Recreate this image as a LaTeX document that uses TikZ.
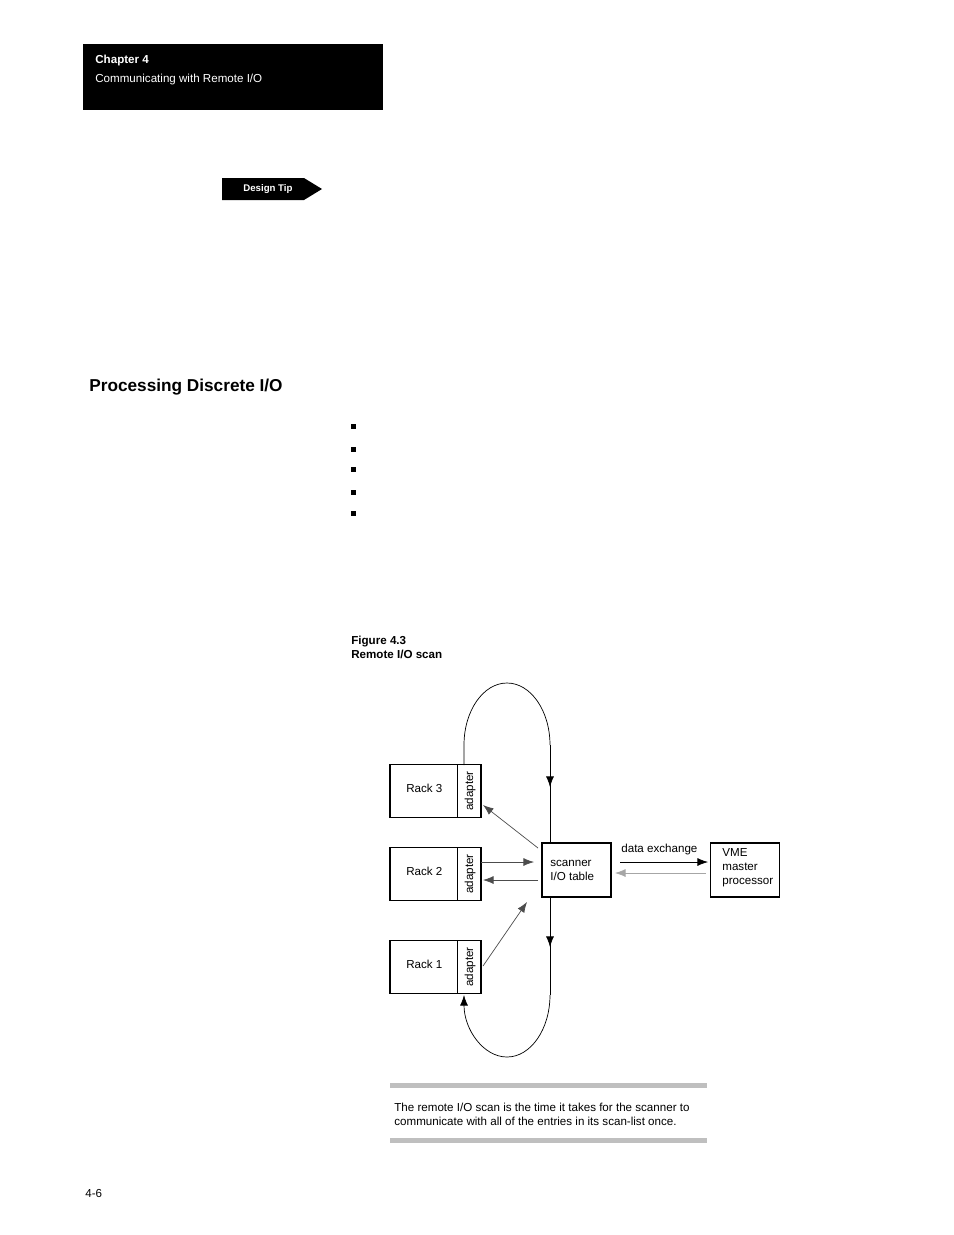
\documentclass[tikz,border=0pt]{standalone}
\usepackage{fontspec}
\setmainfont{Liberation Sans}
\usetikzlibrary{arrows,arrows.meta,calc,shapes}
\tikzset{>={Latex[length=6pt,width=4.5pt]}}
\tikzstyle{rack}=[rectangle,draw,thick,minimum height=1.06cm,minimum width=1.82cm,inner sep=0pt]
\tikzstyle{unit}=[rectangle,draw,thick,minimum height=1.08cm,minimum width=1.38cm,inner sep=0pt]
\tikzstyle{txt}=[anchor=west,inner sep=0pt,font=\fontsize{6.6}{8}\selectfont,align=left]
\tikzstyle{link}=[->,draw=black!70,thin]
\begin{document}
\begin{tikzpicture}[x=0.02cm,y=-0.02cm]
	\useasboundingbox (0,0) rectangle (954,1235);
	% page furniture
	\fill (83,44) rectangle (383,110);
	\node[txt,text=white] (chap) at (95,60) {\textbf{Chapter 4}};
	\node[txt,text=white] (chapt) at (95,79) {Communicating with Remote I/O};
	\fill (222,178) -- (304,178) -- (322,189) -- (304,200) -- (222,200) -- cycle;
	\node[txt,text=white,font=\fontsize{5.5}{6}\selectfont\bfseries] (tip) at (243,189) {Design Tip};
	\node[txt,font=\fontsize{9.8}{12}\selectfont\bfseries] (sec) at (89,387) {Processing Discrete I/O};
	\foreach \y in {426,449,469,492,513} {
		\fill (351,\y-2) rectangle (356,\y+3);
	};
	\node[txt,font=\fontsize{6.6}{8}\selectfont\bfseries] (fig) at (351,647) {Figure 4.3\\Remote I/O scan};

	% racks
	\foreach \i/\y in {3/791,2/874,1/967} {
		\node[rack] (rack\i) at (435.5,\y) {};
		\draw (457,\y-26) -- (457,\y+26);
		\node[txt] (lab\i) at (406,\y-3) {Rack \i};
		\node[txt,rotate=90,anchor=center] (ad\i) at (470,\y) {adapter};
	};
	\node[unit] (scan) at (576.5,870) {};
	\node[txt] (scant) at (550,870) {scanner\\I/O table};
	\node[unit] (vme) at (745,870) {};
	\node[txt] (vmet) at (722,868) {VME\\master\\processor};

	% scan loop
	\coordinate (top) at (550,745);
	\coordinate (bot) at (550,995);
	\draw (464,765) -- (464,745) arc[start angle=180,end angle=0,x radius=43,y radius=-62];
	\draw[->] (top) -- (550,787);
	\draw (550,780) -- (scan.north -| top);
	\draw[->] (scan.south -| bot) -- (550,947);
	\draw (550,940) -- (bot);
	\draw[->] (bot) arc[start angle=0,end angle=-180,x radius=43,y radius=-62];

	% links
	\draw[link] (538,848) -- (483,805);
	\draw[link] (481,862) -- (534,862);
	\draw[link] (538,880) -- (483,880);
	\draw[link] (483,966) -- (527,902);
	\draw[->] (620,862) -- (708,862);
	\node[txt] (dx) at (621,849) {data exchange};
	\draw[->,draw=black!35] (706,873) -- (615,873);

	% note
	\fill[black!25] (390,1083) rectangle (707,1088);
	\fill[black!25] (390,1138) rectangle (707,1143);
	\node[txt] (note) at (394,1114) {The remote I/O scan is the time it takes for the scanner to\\communicate with all of the entries in its scan-list once.};
	\node[txt] (page) at (85,1193) {4-6};
\end{tikzpicture}
\end{document}
